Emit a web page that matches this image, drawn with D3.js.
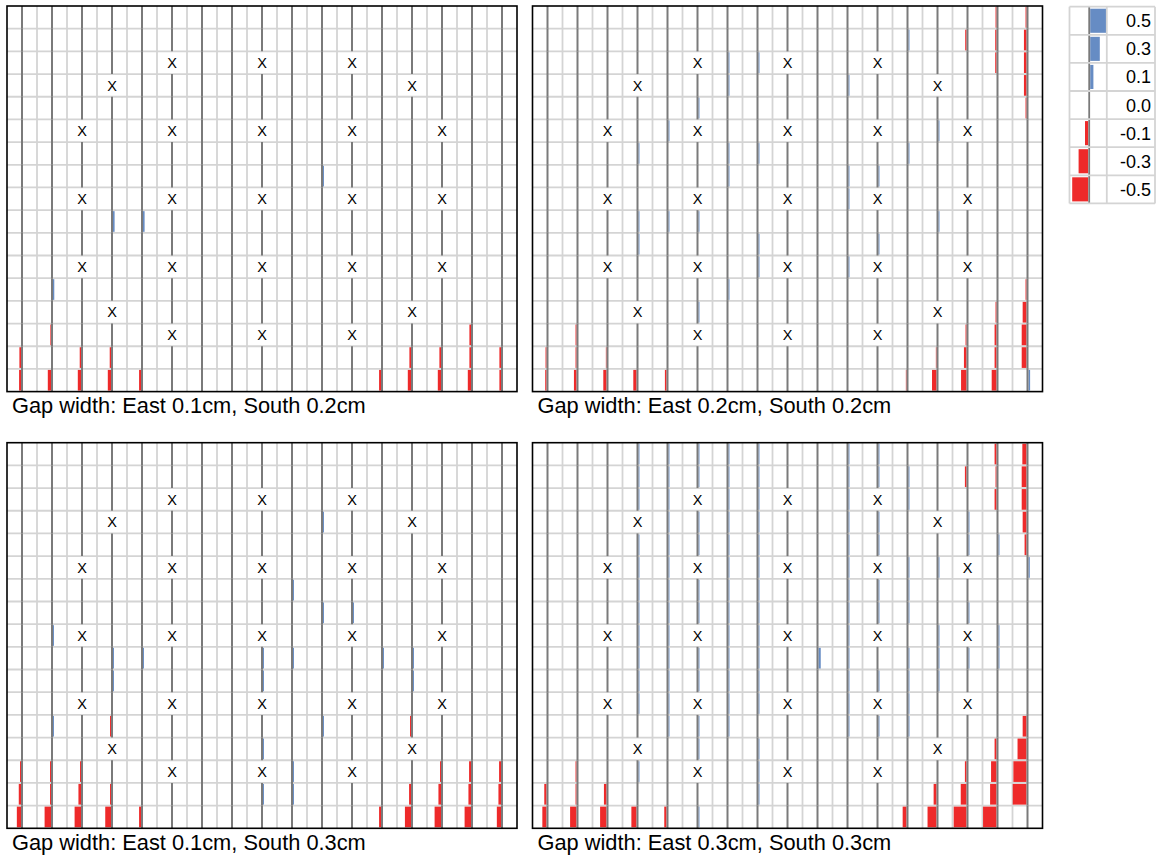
<!DOCTYPE html>
<meta charset="utf-8">
<style>
  body { margin: 0; background: #fff; }
  text { font-family: "Liberation Sans", Arial, sans-serif; }
</style>
<script src="https://d3js.org/d3.v7.min.js"></script>
<div id="chart"></div>
<script>
// 17 x 17 cells per panel, value per cell, null = missing (drawn as X)
var N = null;

var gapEast01South02 = [
  [0,0,0,0,0,0,0,0,0,0,0,0,0,0,0,0,0],
  [0,0,0,0,0,0,0,0,0,0,0,0,0,0,0,0,0],
  [0,0,0,0,0,N,0,0,N,0,0,N,0,0,0,0,0],
  [0,0,0,N,0,0,0,0,0,0,0,0,0,N,0,0,0],
  [0,0,0,0,0,0,0,0,0,0,0,0,0,0,0,0,0],
  [0,0,N,0,0,N,0,0,N,0,0,N,0,0,N,0,0],
  [0,0,0,0,0,0,0,0,0,0,0,0,0,0,0,0,0],
  [0,0,0,0,0,0,0,0,0,0,0.03,0,0,0,0,0,0],
  [0,0,N,0,0,N,0,0,N,0,0,N,0,0,N,0,0],
  [0,0,0,0.05,0.05,0,0,0,0,0,0,0,0,0,0,0,0],
  [0,0,0,0,0,0,0,0,0,0,0,0,0,0,0,0,0],
  [0,0,N,0,0,N,0,0,N,0,0,N,0,0,N,0,0],
  [0,0.04,0,0,0,0,0,0,0,0,0,0,0,0,0,0,0],
  [0,0,0,N,0,0,0,0,0,0,0,0,0,N,0,0,0],
  [0,-0.02,0,0,0,N,0,0,N,0,0,N,0,0,0,-0.05,0],
  [-0.05,0,-0.04,-0.04,0,0,0,0,0,0,0,0,0,-0.05,-0.05,-0.05,-0.05],
  [-0.06,-0.1,-0.1,-0.1,-0.06,0,0,0,0,0,0,0,-0.06,-0.1,-0.1,-0.1,-0.05]
];

var gapEast02South02 = [
  [0,0,0,0,0,0,0,0,0,0,0,0,0,0,0,-0.03,-0.03],
  [0,0,0,0,0,0,0,0,0,0,0,0,0.03,0,-0.04,-0.04,-0.08],
  [0,0,0,0,0,N,0.03,0.03,N,0,0,N,0,0,0,-0.04,-0.08],
  [0,0,0,N,0,0,0.03,0,0,0,0.03,0,0,N,0,0,-0.08],
  [0,0,0,0,0,0.03,0,0,0,0,0,0,0,0,0,0,-0.03],
  [0,0,N,0,0.03,N,0,0,N,0,0,N,0,0.03,N,0,0],
  [0,0,0,0.03,0,0,0.03,0.03,0,0,0,0,0.03,0,0,0,0],
  [0,0,0,0,0,0,0.03,0,0,0,0.03,0.03,0,0,0,0,0],
  [0,0,N,0,0,N,0,0,N,0,0.03,N,0,0,N,0,0],
  [0,0,0,0.03,0.03,0.03,0,0,0,0,0,0,0,0.03,0,0,0],
  [0,0,0,0.03,0,0,0,0.03,0,0,0,0.03,0,0,0,0,0],
  [0,0,N,0,0,N,0,0.03,N,0,0.03,N,0,0,N,0,0],
  [0,0,0,0,0,0,0.03,0,0,0,0,0,0,0,0,0,-0.03],
  [0,0,0,N,0,0.03,0,0,0,0,0,0,0,N,0,-0.03,-0.12],
  [0,-0.03,0,0,0,N,0,0,N,0,0,N,0,0,-0.03,-0.06,-0.15],
  [-0.03,-0.03,-0.02,0,0,0,0,0,0,0,0,0,0,-0.02,-0.08,-0.06,-0.15],
  [-0.04,-0.08,-0.1,-0.1,-0.05,0,0,0,0,0,0,0,-0.02,-0.14,-0.17,-0.15,0.05]
];

var gapEast01South03 = [
  [0,0,0,0,0,0,0,0,0,0,0,0,0,0,0,0,0],
  [0,0,0,0,0,0,0,0,0,0,0,0,0,0,0,0,0],
  [0,0,0,0,0,N,0,0,N,0,0,N,0,0,0,0,0],
  [0,0,0,N,0,0,0,0,0,0,0.03,0,0,N,0,0,0],
  [0,0,0,0,0,0,0,0,0,0,0,0,0,0,0,0,0],
  [0,0,N,0,0,N,0,0,N,0,0,N,0,0,N,0,0],
  [0,0,0,0,0,0,0,0,0,0.03,0,0,0,0,0,0,0],
  [0,0,0,0,0,0,0,0,0,0,0.03,0.03,0,0,0,0,0],
  [0,0.03,N,0,0,N,0,0,N,0,0,N,0,0,N,0,0],
  [0,0,0,0.03,0.03,0,0,0,0.03,0.03,0,0,0.03,0.03,0,0,0],
  [0,0,0,0.03,0,0,0,0,0.03,0,0,0,0,0.03,0,0,0],
  [0,0,N,0,0,N,0,0,N,0,0,N,0,0,N,0,0],
  [0,0.03,0,-0.03,0,0,0,0,0,0,0.03,0,0,-0.03,0,0,0],
  [0,0,0,N,0,0,0,0,0.03,0,0,0,0,N,0,0,0],
  [-0.03,-0.03,-0.03,0,0,N,0,0,N,0.03,0,N,0,0,-0.03,-0.06,-0.06],
  [-0.07,-0.03,-0.08,-0.03,0,0,0,0,0.03,0.03,0,0,0,-0.06,-0.08,-0.08,-0.08],
  [-0.13,-0.2,-0.2,-0.18,-0.06,0,0,0,0,0,0,0,-0.06,-0.19,-0.2,-0.2,-0.13]
];

var gapEast03South03 = [
  [0,0,0,0.03,0.03,0.03,0.03,0.03,0,0,0.03,0.03,0,0,0,-0.06,-0.13],
  [0,0,0,0.03,0.03,0.03,0.03,0.03,0,0,0.03,0.03,0.03,0,-0.05,-0.03,-0.15],
  [0,0,0,0.03,0.03,N,0.03,0.03,N,0,0.03,N,0.03,0,0,-0.06,-0.15],
  [0,0,0,N,0.03,0.03,0.03,0.03,0,0,0.03,0.03,0,N,0.03,0,-0.12],
  [0,0,0,0.03,0.03,0.03,0.03,0.03,0,0,0.03,0.03,0,0,0.03,0.03,-0.06],
  [0,0,N,0.03,0.03,N,0.03,0.03,N,0,0.03,N,0.03,0.03,N,0,0.04],
  [0,0,0,0.03,0.03,0.03,0.03,0.03,0,0,0.03,0.03,0.03,0,0,0,0],
  [0,0,0,0.03,0.03,0.03,0.03,0.03,0,0,0.03,0.03,0.03,0,0.03,0,0],
  [0,0,N,0.03,0.03,N,0.03,0.03,N,0,0.03,N,0,0.03,N,0.03,0],
  [0,0,0,0.03,0.03,0.03,0.03,0.03,0,0.07,0.03,0,0.03,0.03,0.03,0.03,0],
  [0,0,0,0.03,0.03,0.03,0.03,0.03,0,0,0.03,0.03,0.03,0.03,0,0,0],
  [0,0,N,0.03,0.03,N,0.03,0.03,N,0,0.03,N,0.03,0,N,0,0],
  [0,0,0,0,0.03,0.03,0.03,0,0,0,0.03,0.03,0.03,0,0,0,-0.12],
  [0,0,0,N,0,0.03,0,0.03,0,0,0,0,0,N,0,-0.06,-0.28],
  [0,-0.03,0,0.03,0,N,0,0.03,N,0,0,N,0,0,-0.05,-0.17,-0.41],
  [-0.07,-0.03,-0.08,0,0,0,0,0.03,0,0,0,0,0,-0.09,-0.18,-0.2,-0.43],
  [-0.13,-0.2,-0.2,-0.16,-0.07,0.03,0,0,0,0,0,0,-0.12,-0.28,-0.4,-0.42,0]
];

var panelTitles = [
  "Gap width: East 0.1cm, South 0.2cm",
  "Gap width: East 0.2cm, South 0.2cm",
  "Gap width: East 0.1cm, South 0.3cm",
  "Gap width: East 0.3cm, South 0.3cm"
];
var panelData = [gapEast01South02, gapEast02South02, gapEast01South03, gapEast03South03];

var legendValues = [0.5, 0.3, 0.1, 0.0, -0.1, -0.3, -0.5];
var legendLabels = ["0.5", "0.3", "0.1", "0.0", "-0.1", "-0.3", "-0.5"];

var blue = "#668cc4", red = "#ee2a2a", axisGray = "#7a7a7a", gridGray = "#d4d4d4";

var svg = d3.select("#chart").append("svg")
  .attr("width", 1160).attr("height", 858);

var panelW = 510, panelH = 385.6;
var panelPos = [[7, 6], [532.5, 6], [7, 442.7], [532.5, 442.7]];

var x = d3.scaleBand().domain(d3.range(17)).range([0, panelW]);
var y = d3.scaleBand().domain(d3.range(17)).range([0, panelH]);
var barW = d3.scaleLinear().domain([0, 0.5]).range([0, 16]);

panelData.forEach(function(data, p) {
  var g = svg.append("g")
    .attr("transform", "translate(" + panelPos[p][0] + "," + panelPos[p][1] + ")");

  var cells = [];
  data.forEach(function(row, r) {
    row.forEach(function(v, c) { cells.push({r: r, c: c, v: v}); });
  });

  // light grid
  g.selectAll(".vg").data(d3.range(1, 17)).enter().append("line")
    .attr("x1", function(d) { return x(d); }).attr("x2", function(d) { return x(d); })
    .attr("y1", 0).attr("y2", panelH)
    .attr("stroke", gridGray).attr("stroke-width", 1.8);
  g.selectAll(".hg").data(d3.range(1, 17)).enter().append("line")
    .attr("y1", function(d) { return y(d); }).attr("y2", function(d) { return y(d); })
    .attr("x1", 0).attr("x2", panelW)
    .attr("stroke", gridGray).attr("stroke-width", 1.8);

  var mid = function(d) { return x(d.c) + x.bandwidth() / 2; };

  // bars
  g.selectAll(".bar").data(cells.filter(function(d) { return d.v !== null && d.v !== 0; }))
    .enter().append("rect")
    .attr("x", function(d) { return d.v > 0 ? mid(d) + 1 : mid(d) - 1 - barW(-d.v); })
    .attr("y", function(d) { return y(d.r) + 1; })
    .attr("width", function(d) { return barW(Math.abs(d.v)); })
    .attr("height", y.bandwidth() - 2)
    .attr("fill", function(d) { return d.v > 0 ? blue : red; });

  // zero axis per cell
  g.selectAll(".ax").data(cells.filter(function(d) { return d.v !== null; }))
    .enter().append("line")
    .attr("x1", mid).attr("x2", mid)
    .attr("y1", function(d) { return y(d.r); })
    .attr("y2", function(d) { return y(d.r) + y.bandwidth(); })
    .attr("stroke", axisGray).attr("stroke-width", 2);

  // missing cells
  g.selectAll(".miss").data(cells.filter(function(d) { return d.v === null; }))
    .enter().append("text")
    .attr("x", mid)
    .attr("y", function(d) { return y(d.r) + y.bandwidth() / 2; })
    .attr("dy", "0.36em")
    .attr("text-anchor", "middle")
    .style("font-size", "14.5px")
    .text("X");

  g.append("rect")
    .attr("width", panelW).attr("height", panelH)
    .attr("fill", "none").attr("stroke", "#000").attr("stroke-width", 1.6);

  g.append("text")
    .attr("x", 5).attr("y", panelH + 21.5)
    .style("font-size", "21.8px")
    .text(panelTitles[p]);
});

// legend
var lg = svg.append("g").attr("transform", "translate(1069.5,6.7)");
var ly = d3.scaleBand().domain(d3.range(legendValues.length)).range([0, 196.7]);
var lw = 85.5, lSplit = 37.3, lZero = 19.7;

lg.selectAll(".lbar").data(legendValues.filter(function(v) { return v !== 0; }))
  .enter().append("rect")
  .attr("x", function(v) { return v > 0 ? lZero + 1 : lZero - 1 - barW(-v); })
  .attr("y", function(v) { return ly(legendValues.indexOf(v)) + 2; })
  .attr("width", function(v) { return barW(Math.abs(v)); })
  .attr("height", ly.bandwidth() - 4)
  .attr("fill", function(v) { return v > 0 ? blue : red; });

lg.selectAll(".lax").data(legendValues).enter().append("line")
  .attr("x1", lZero).attr("x2", lZero)
  .attr("y1", function(v, i) { return ly(i); })
  .attr("y2", function(v, i) { return ly(i) + ly.bandwidth(); })
  .attr("stroke", axisGray).attr("stroke-width", 1.8);

lg.selectAll(".lh").data(d3.range(legendValues.length + 1)).enter().append("line")
  .attr("x1", 0).attr("x2", lw)
  .attr("y1", function(i) { return i * ly.step(); })
  .attr("y2", function(i) { return i * ly.step(); })
  .attr("stroke", gridGray).attr("stroke-width", 1.8);
[0, lSplit, lw].forEach(function(xx) {
  lg.append("line").attr("x1", xx).attr("x2", xx).attr("y1", 0).attr("y2", 196.7)
    .attr("stroke", gridGray).attr("stroke-width", 1.8);
});

lg.selectAll(".lt").data(legendLabels).enter().append("text")
  .attr("x", lw - 4)
  .attr("y", function(d, i) { return ly(i) + ly.bandwidth() / 2; })
  .attr("dy", "0.36em")
  .attr("text-anchor", "end")
  .style("font-size", "18px")
  .text(function(d) { return d; });
</script>
